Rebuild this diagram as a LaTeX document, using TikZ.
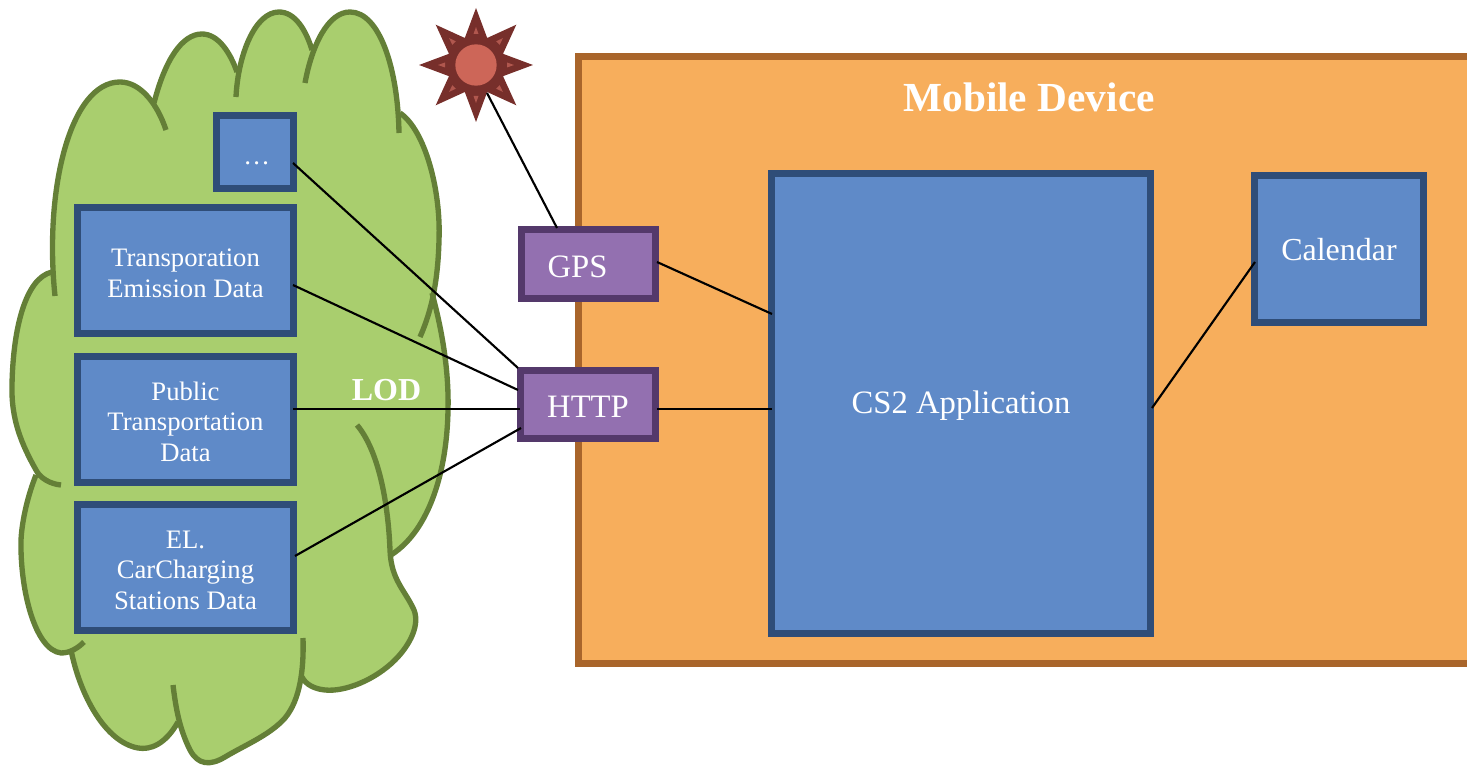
\documentclass[tikz,border=0pt]{standalone}
\usepackage{fontspec}
\setmainfont{Liberation Serif}
\usetikzlibrary{shapes.geometric}
\definecolor{cloudfill}{HTML}{A9CE6E}
\definecolor{cloudline}{HTML}{647F37}
\definecolor{bluefill}{HTML}{5F8AC8}
\definecolor{blueline}{HTML}{2F4D78}
\definecolor{purpfill}{HTML}{9370B0}
\definecolor{purpline}{HTML}{54396B}
\definecolor{orangefill}{HTML}{F7AE5C}
\definecolor{orangeline}{HTML}{A9652B}
\definecolor{stardark}{HTML}{772F2B}
\definecolor{starlight}{HTML}{CD6658}
\definecolor{startri}{HTML}{B0574E}
\tikzset{
  x=0.75pt,y=-0.75pt,
  bluebox/.style={draw=blueline,fill=bluefill,line width=5.25pt,inner sep=0pt,text=white,align=center},
  databox/.style={bluebox,font=\fontsize{20}{23}\selectfont,minimum width=162pt,minimum height=94.5pt},
  purpbox/.style={draw=purpline,fill=purpfill,line width=5.25pt,inner sep=0pt,text=white,font=\fontsize{24.5}{28}\selectfont},
  lobe/.style={draw=cloudline,line width=4pt},
  conn/.style={draw=black,line width=1.6pt},
  titletext/.style={text=white,font=\bfseries\fontsize{31}{36}\selectfont,inner sep=0pt},
}
\def\lobeA{(55,296) .. controls (44,190) and (70,82) .. (120,82) .. controls (140,82) and (157,103) .. (166,130)}
\def\lobeB{(154,103) .. controls (165,60) and (182,34) .. (202,34) .. controls (218,34) and (230,52) .. (237,72)}
\def\lobeC{(236,97) .. controls (238,55) and (255,12) .. (279,12) .. controls (295,12) and (306,30) .. (312,50)}
\def\lobeD{(305,83) .. controls (312,45) and (328,12) .. (350,12) .. controls (380,12) and (398,70) .. (399,133)}
\def\lobeE{(400,113) .. controls (425,130) and (441,190) .. (439,240) .. controls (438,280) and (432,310) .. (420,337)}
\def\lobeF{(432,293) .. controls (442,330) and (449,370) .. (448,410) .. controls (447,470) and (430,530) .. (391,555)}
\def\lobeG{(357,425) .. controls (378,450) and (388,500) .. (390,550) .. controls (391,580) and (405,590) .. (414,610) .. controls (420,625) and (410,645) .. (395,660) .. controls (375,680) and (345,692) .. (325,690) .. controls (315,689) and (306,685) .. (302,677)}
\def\lobeH{(303,638) .. controls (304,670) and (300,700) .. (285,718) .. controls (270,735) and (245,745) .. (225,757) .. controls (210,766) and (198,765) .. (190,750) .. controls (180,730) and (176,710) .. (173,685)}
\def\lobeI{(178,722) .. controls (165,745) and (150,750) .. (138,748) .. controls (105,742) and (80,695) .. (71,650)}
\def\lobeJ{(84,642) .. controls (78,648) and (70,653) .. (61,653) .. controls (35,650) and (20,590) .. (21,540) .. controls (22,520) and (28,495) .. (36,475)}
\def\lobeK{(61,485) .. controls (50,484) and (40,478) .. (36,470) .. controls (22,445) and (11,420) .. (12,385) .. controls (13,330) and (25,278) .. (52,272)}
\begin{document}
\begin{tikzpicture}
\useasboundingbox (0,0) rectangle (1467,766);
% cloud fill
\fill[cloudfill] \lobeA -- \lobeB -- \lobeC -- \lobeD -- \lobeE -- \lobeF -- \lobeG -- \lobeH -- \lobeI -- \lobeJ -- \lobeK -- cycle;
% cloud lobes
\foreach \p in {\lobeA,\lobeB,\lobeC,\lobeD,\lobeE,\lobeF,\lobeG,\lobeH,\lobeI,\lobeJ,\lobeK}
  \draw[lobe] \p;
% mobile device panel (runs off the right edge)
\fill[orangefill] (1467,57) -- (578,57) -- (578,663) -- (1467,663) -- cycle;
\draw[orangeline,line width=5.25pt] (1467,57) -- (578,57) -- (578,663) -- (1467,663);
\node[titletext] (title) at (1029,97) {Mobile Device};
% star
\node[star,star points=8,star point ratio=1.95,fill=stardark,minimum size=85.5pt,inner sep=0pt] (star) at (476,65) {};
\foreach \a in {0,45,...,315}
  \fill[startri,shift={(476,65)},rotate=\a] (-2.5,-31) -- (2.5,-31) -- (0,-38) -- cycle;
\node[circle,fill=starlight,minimum size=31pt,inner sep=0pt] (sun) at (476,65) {};
% data boxes
\node[bluebox,minimum width=58.1pt,minimum height=54.75pt,font=\fontsize{20}{23}\selectfont] (dots) at (254.75,152) {\rule{0pt}{19.5pt}\hspace*{3pt}…};
\node[databox] (trans) at (185.5,270.5) {\rule{0pt}{17pt}Transporation\\Emission Data};
\node[databox] (public) at (185.5,419.5) {\rule{0pt}{17pt}Public\\Transportation\\Data};
\node[databox] (el) at (185.5,567.5) {\rule{0pt}{17pt}EL.\\CarCharging\\Stations Data};
\node[titletext,font=\bfseries\fontsize{24}{28}\selectfont] (lod) at (386.5,390) {LOD};
% device boxes
\node[purpbox,minimum width=100.5pt,minimum height=51.75pt] (gps) at (588.5,264) {\rule{0pt}{20.5pt}GPS\hspace*{16.5pt}};
\node[purpbox,minimum width=101.25pt,minimum height=51pt] (http) at (588,404.5) {\rule{0pt}{19pt}HTTP};
\node[bluebox,minimum width=284.25pt,minimum height=345pt,font=\fontsize{24.5}{28}\selectfont] (cs2) at (961,403.5) {\rule{0pt}{20pt}CS2 Application};
\node[bluebox,minimum width=126.75pt,minimum height=110.25pt,font=\fontsize{24}{28}\selectfont] (cal) at (1339,249) {\rule{0pt}{17.5pt}Calendar};
% connectors
\draw[conn] ([shift={(38.25,11)}]dots.center) -- ([shift={(-70,-36.5)}]http.center);
\draw[conn] ([shift={(107.5,14.5)}]trans.center) -- ([shift={(-70,-14.5)}]http.center);
\draw[conn] ([shift={(107.5,-10.5)}]public.center) -- ([shift={(-68,4.5)}]http.center);
\draw[conn] ([shift={(109.5,-11.5)}]el.center) -- ([shift={(-67,23.5)}]http.center);
\draw[conn] ([shift={(11,28)}]star.center) -- ([shift={(-31.5,-36)}]gps.center);
\draw[conn] ([shift={(68.5,-2)}]gps.center) -- ([shift={(-189,-89.5)}]cs2.center);
\draw[conn] ([shift={(69,4.5)}]http.center) -- ([shift={(-189,5.5)}]cs2.center);
\draw[conn] ([shift={(191,4.5)}]cs2.center) -- ([shift={(-84,13)}]cal.center);
\end{tikzpicture}
\end{document}
